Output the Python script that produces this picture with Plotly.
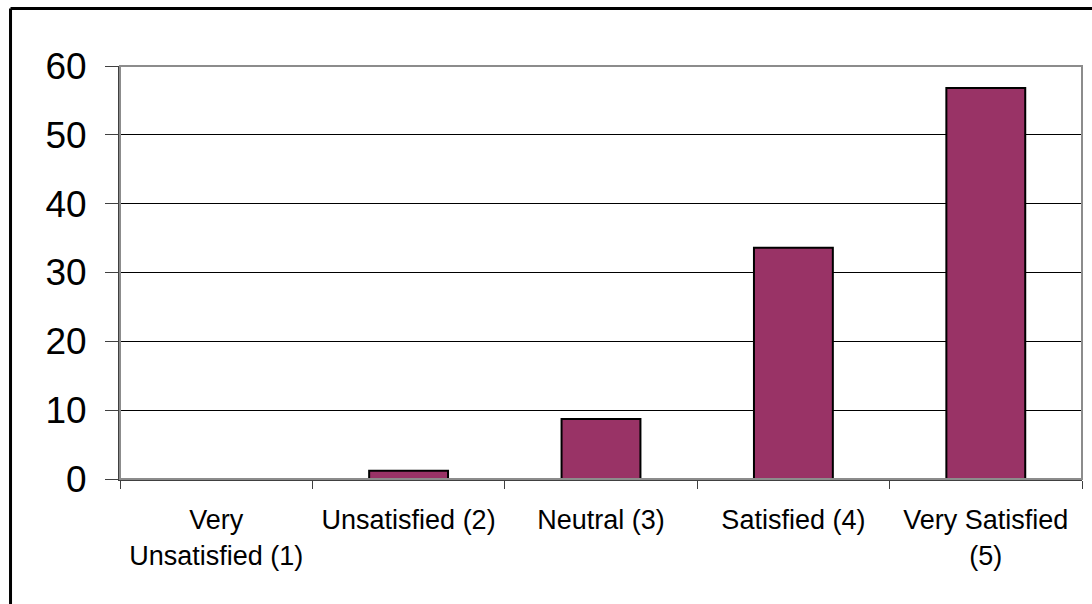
import plotly.graph_objects as go

# Satisfaction survey responses
categories = [
    "Very<br>Unsatisfied (1)",
    "Unsatisfied (2)",
    "Neutral (3)",
    "Satisfied (4)",
    "Very Satisfied<br>(5)",
]
values = [0, 1.2, 8.7, 33.6, 56.8]
y_ticks = [0, 10, 20, 30, 40, 50, 60]

FONT = "Liberation Sans, Arial, sans-serif"

fig = go.Figure(
    go.Bar(
        x=categories,
        y=values,
        marker=dict(color="#993366", line=dict(color="#000000", width=2)),
        width=0.41,
    )
)

fig.update_layout(
    width=1092,
    height=604,
    margin=dict(l=120, r=10, t=66, b=125),
    paper_bgcolor="white",
    plot_bgcolor="white",
    showlegend=False,
    font=dict(family=FONT, color="#000000"),
    shapes=[
        # plot-area frame (top and right edges)
        dict(type="rect", xref="paper", yref="paper", x0=0, x1=1, y0=0, y1=1,
             line=dict(color="#8c8c8c", width=2), layer="above"),
        # outer chart frame: left and top edges
        dict(type="line", xref="paper", yref="paper",
             x0=-0.1138, x1=-0.1138, y0=-0.3027, y1=1.1392,
             line=dict(color="#000000", width=3), layer="above"),
        dict(type="line", xref="paper", yref="paper",
             x0=-0.1138, x1=1.0104, y0=1.1392, y1=1.1392,
             line=dict(color="#000000", width=3), layer="above"),
    ],
)

fig.update_xaxes(
    type="category",
    showgrid=False,
    showline=True,
    linecolor="#404040",
    linewidth=2,
    ticks="outside",
    tickson="boundaries",
    ticklen=8,
    tickcolor="#404040",
    tickwidth=1,
    tickfont=dict(size=27, family=FONT, color="#000000"),
    ticklabelstandoff=16,
)

fig.update_yaxes(
    range=[0, 60],
    tickvals=y_ticks,
    showgrid=True,
    gridcolor="#000000",
    gridwidth=1,
    showline=True,
    linecolor="#404040",
    linewidth=2,
    ticks="outside",
    ticklen=13,
    tickcolor="#404040",
    tickwidth=1,
    tickfont=dict(size=37, family=FONT, color="#000000"),
    ticklabelstandoff=11,
    zeroline=False,
)

fig.write_html("out.html")
